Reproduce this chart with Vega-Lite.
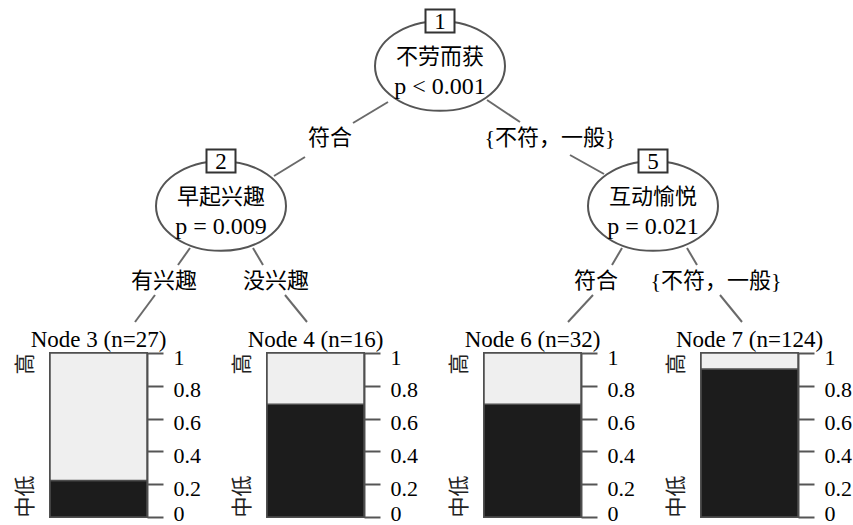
{
  "$schema": "https://vega.github.io/schema/vega-lite/v6.json",
  "background": "white",
  "padding": {"left": 13, "top": 0, "right": 0, "bottom": 0},
  "spacing": 23,
  "bounds": "flush",
  "config": {
    "view": {"stroke": "#555", "strokeWidth": 2},
    "font": "Liberation Serif"
  },
  "vconcat": [
    {
      "width": 803,
      "height": 330,
      "view": {"stroke": null},
      "layer": [
        {
          "data": {"values": [
            {"x1": 388, "y1": 102, "x2": 353, "y2": 123},
            {"x1": 305, "y1": 157, "x2": 274, "y2": 176},
            {"x1": 487, "y1": 100, "x2": 520, "y2": 122},
            {"x1": 570, "y1": 155, "x2": 604, "y2": 174},
            {"x1": 190, "y1": 248, "x2": 178, "y2": 265},
            {"x1": 155, "y1": 295, "x2": 135, "y2": 322},
            {"x1": 253, "y1": 248, "x2": 263, "y2": 265},
            {"x1": 285, "y1": 295, "x2": 307, "y2": 322},
            {"x1": 622, "y1": 248, "x2": 612, "y2": 265},
            {"x1": 593, "y1": 295, "x2": 568, "y2": 322},
            {"x1": 687, "y1": 248, "x2": 697, "y2": 265},
            {"x1": 720, "y1": 295, "x2": 742, "y2": 322}
          ]},
          "mark": {"type": "rule", "stroke": "#6a6a6a", "strokeWidth": 2},
          "encoding": {
            "x": {"field": "x1", "type": "quantitative", "scale": {"domain": [50, 853], "nice": false, "zero": false}, "axis": null},
            "y": {"field": "y1", "type": "quantitative", "scale": {"domain": [330, 0], "nice": false, "zero": false}, "axis": null},
            "x2": {"field": "x2"},
            "y2": {"field": "y2"}
          }
        },
        {
          "data": {"name": "nodes", "values": [
            {"id": "1", "x": 440, "y": 66, "var": "不劳而获", "p": "p < 0.001"},
            {"id": "2", "x": 221, "y": 206, "var": "早起兴趣", "p": "p = 0.009"},
            {"id": "5", "x": 653, "y": 206, "var": "互动愉悦", "p": "p = 0.021"}
          ]},
          "layer": [
            {
              "mark": {"type": "point", "shape": "M 1 0 C 1 0.381 0.552 0.69 0 0.69 C -0.552 0.69 -1 0.381 -1 0 C -1 -0.381 -0.552 -0.69 0 -0.69 C 0.552 -0.69 1 -0.381 1 0 Z", "size": 16900, "filled": true, "fill": "white", "stroke": "#555", "strokeWidth": 2, "opacity": 1},
              "encoding": {
                "x": {"field": "x", "type": "quantitative", "scale": {"domain": [50, 853], "nice": false, "zero": false}, "axis": null},
                "y": {"field": "y", "type": "quantitative", "scale": {"domain": [330, 0], "nice": false, "zero": false}, "axis": null}
              }
            },
            {
              "mark": {"type": "point", "shape": "M -1 -0.8 L 1 -0.8 L 1 0.8 L -1 0.8 Z", "size": 841, "filled": true, "fill": "white", "stroke": "#333", "strokeWidth": 2, "opacity": 1},
              "encoding": {
                "x": {"field": "x", "type": "quantitative", "scale": {"domain": [50, 853], "nice": false, "zero": false}, "axis": null},
                "y": {"field": "y", "type": "quantitative", "scale": {"domain": [330, 0], "nice": false, "zero": false}, "axis": null},
                "yOffset": {"value": -45}
              }
            },
            {
              "mark": {"type": "text", "font": "Liberation Serif", "fontSize": 23, "color": "black", "baseline": "middle", "dy": -44},
              "encoding": {
                "x": {"field": "x", "type": "quantitative", "scale": {"domain": [50, 853], "nice": false, "zero": false}, "axis": null},
                "y": {"field": "y", "type": "quantitative", "scale": {"domain": [330, 0], "nice": false, "zero": false}, "axis": null},
                "text": {"field": "id"}
              }
            },
            {
              "mark": {"type": "text", "font": "Noto Sans CJK SC", "fontSize": 22, "color": "black", "baseline": "middle", "dy": -9},
              "encoding": {
                "x": {"field": "x", "type": "quantitative", "scale": {"domain": [50, 853], "nice": false, "zero": false}, "axis": null},
                "y": {"field": "y", "type": "quantitative", "scale": {"domain": [330, 0], "nice": false, "zero": false}, "axis": null},
                "text": {"field": "var"}
              }
            },
            {
              "mark": {"type": "text", "font": "Liberation Serif", "fontSize": 24, "color": "black", "baseline": "middle", "dy": 21},
              "encoding": {
                "x": {"field": "x", "type": "quantitative", "scale": {"domain": [50, 853], "nice": false, "zero": false}, "axis": null},
                "y": {"field": "y", "type": "quantitative", "scale": {"domain": [330, 0], "nice": false, "zero": false}, "axis": null},
                "text": {"field": "p"}
              }
            }
          ]
        },
        {
          "data": {"values": [
            {"x": 330, "y": 138, "t": "符合"},
            {"x": 550, "y": 138, "t": "{不符，一般}"},
            {"x": 164, "y": 281, "t": "有兴趣"},
            {"x": 276, "y": 281, "t": "没兴趣"},
            {"x": 596, "y": 281, "t": "符合"},
            {"x": 716, "y": 281, "t": "{不符，一般}"}
          ]},
          "mark": {"type": "text", "font": "Liberation Serif, Noto Sans CJK SC", "fontSize": 22, "color": "black", "baseline": "middle"},
          "encoding": {
            "x": {"field": "x", "type": "quantitative", "scale": {"domain": [50, 853], "nice": false, "zero": false}, "axis": null},
            "y": {"field": "y", "type": "quantitative", "scale": {"domain": [330, 0], "nice": false, "zero": false}, "axis": null},
            "text": {"field": "t"}
          }
        }
      ]
    },
    {
      "hconcat": [
        {
          "width": 97, "height": 164,
          "title": {"text": "Node 3 (n=27)", "font": "Liberation Serif", "fontSize": 23, "fontWeight": "normal", "color": "black", "anchor": "middle", "frame": "group", "offset": -24, "baseline": "alphabetic"},
          "data": {"values": [{"node": "Node 3", "level": "中低", "p": 0.222}, {"node": "Node 3", "level": "高", "p": 0.778}]},
          "layer": [
            {
              "mark": {"type": "bar", "stroke": "#4d4d4d", "strokeWidth": 1.5},
              "encoding": {
                "x": {"field": "node", "type": "nominal", "axis": null, "scale": {"paddingInner": 0, "paddingOuter": 0}},
                "y": {"field": "p", "type": "quantitative", "stack": "zero", "scale": {"domain": [0, 1], "nice": false},
                  "axis": {"orient": "right", "values": [0, 0.2, 0.4, 0.6, 0.8, 1], "format": "~g", "grid": false, "title": null, "domainColor": "#555", "domainWidth": 2, "tickColor": "#555", "tickWidth": 2, "tickSize": 16, "labelPadding": 10, "labelFont": "Liberation Serif", "labelFontSize": 22, "labelColor": "black", "labelBaseline": "middle", "labelOffset": {"condition": {"test": "datum.value == 0", "value": -4}, "value": 4}}},
                "color": {"field": "level", "type": "nominal", "scale": {"domain": ["中低", "高"], "range": ["#1c1c1c", "#efefef"]}, "legend": null},
                "order": {"field": "level", "type": "ordinal", "sort": "ascending"}
              }
            },
            {
              "mark": {"type": "bar", "opacity": 0},
              "encoding": {
                "x": {"field": "node", "type": "nominal", "axis": null, "scale": {"paddingInner": 0, "paddingOuter": 0}},
                "y": {"field": "p", "type": "quantitative", "stack": "zero", "scale": {"domain": [0, 1], "nice": false},
                  "axis": {"orient": "left", "values": [0, 1], "labelExpr": "datum.value == 0 ? '中低' : '高'", "domain": false, "ticks": false, "grid": false, "title": null, "labelAngle": 270, "labelAlign": {"condition": {"test": "datum.value == 0", "value": "left"}, "value": "right"}, "labelBaseline": "bottom", "labelPadding": 15, "labelFont": "Noto Sans CJK SC", "labelFontSize": 21, "labelColor": "#222"}},
                "order": {"field": "level", "type": "ordinal", "sort": "ascending"}
              }
            }
          ],
          "resolve": {"axis": {"y": "independent"}}
        },
        {
          "width": 97, "height": 164,
          "title": {"text": "Node 4 (n=16)", "font": "Liberation Serif", "fontSize": 23, "fontWeight": "normal", "color": "black", "anchor": "middle", "frame": "group", "offset": -24, "baseline": "alphabetic"},
          "data": {"values": [{"node": "Node 4", "level": "中低", "p": 0.6875}, {"node": "Node 4", "level": "高", "p": 0.3125}]},
          "layer": [
            {
              "mark": {"type": "bar", "stroke": "#4d4d4d", "strokeWidth": 1.5},
              "encoding": {
                "x": {"field": "node", "type": "nominal", "axis": null, "scale": {"paddingInner": 0, "paddingOuter": 0}},
                "y": {"field": "p", "type": "quantitative", "stack": "zero", "scale": {"domain": [0, 1], "nice": false},
                  "axis": {"orient": "right", "values": [0, 0.2, 0.4, 0.6, 0.8, 1], "format": "~g", "grid": false, "title": null, "domainColor": "#555", "domainWidth": 2, "tickColor": "#555", "tickWidth": 2, "tickSize": 16, "labelPadding": 10, "labelFont": "Liberation Serif", "labelFontSize": 22, "labelColor": "black", "labelBaseline": "middle", "labelOffset": {"condition": {"test": "datum.value == 0", "value": -4}, "value": 4}}},
                "color": {"field": "level", "type": "nominal", "scale": {"domain": ["中低", "高"], "range": ["#1c1c1c", "#efefef"]}, "legend": null},
                "order": {"field": "level", "type": "ordinal", "sort": "ascending"}
              }
            },
            {
              "mark": {"type": "bar", "opacity": 0},
              "encoding": {
                "x": {"field": "node", "type": "nominal", "axis": null, "scale": {"paddingInner": 0, "paddingOuter": 0}},
                "y": {"field": "p", "type": "quantitative", "stack": "zero", "scale": {"domain": [0, 1], "nice": false},
                  "axis": {"orient": "left", "values": [0, 1], "labelExpr": "datum.value == 0 ? '中低' : '高'", "domain": false, "ticks": false, "grid": false, "title": null, "labelAngle": 270, "labelAlign": {"condition": {"test": "datum.value == 0", "value": "left"}, "value": "right"}, "labelBaseline": "bottom", "labelPadding": 15, "labelFont": "Noto Sans CJK SC", "labelFontSize": 21, "labelColor": "#222"}},
                "order": {"field": "level", "type": "ordinal", "sort": "ascending"}
              }
            }
          ],
          "resolve": {"axis": {"y": "independent"}}
        },
        {
          "width": 97, "height": 164,
          "title": {"text": "Node 6 (n=32)", "font": "Liberation Serif", "fontSize": 23, "fontWeight": "normal", "color": "black", "anchor": "middle", "frame": "group", "offset": -24, "baseline": "alphabetic"},
          "data": {"values": [{"node": "Node 6", "level": "中低", "p": 0.6875}, {"node": "Node 6", "level": "高", "p": 0.3125}]},
          "layer": [
            {
              "mark": {"type": "bar", "stroke": "#4d4d4d", "strokeWidth": 1.5},
              "encoding": {
                "x": {"field": "node", "type": "nominal", "axis": null, "scale": {"paddingInner": 0, "paddingOuter": 0}},
                "y": {"field": "p", "type": "quantitative", "stack": "zero", "scale": {"domain": [0, 1], "nice": false},
                  "axis": {"orient": "right", "values": [0, 0.2, 0.4, 0.6, 0.8, 1], "format": "~g", "grid": false, "title": null, "domainColor": "#555", "domainWidth": 2, "tickColor": "#555", "tickWidth": 2, "tickSize": 16, "labelPadding": 10, "labelFont": "Liberation Serif", "labelFontSize": 22, "labelColor": "black", "labelBaseline": "middle", "labelOffset": {"condition": {"test": "datum.value == 0", "value": -4}, "value": 4}}},
                "color": {"field": "level", "type": "nominal", "scale": {"domain": ["中低", "高"], "range": ["#1c1c1c", "#efefef"]}, "legend": null},
                "order": {"field": "level", "type": "ordinal", "sort": "ascending"}
              }
            },
            {
              "mark": {"type": "bar", "opacity": 0},
              "encoding": {
                "x": {"field": "node", "type": "nominal", "axis": null, "scale": {"paddingInner": 0, "paddingOuter": 0}},
                "y": {"field": "p", "type": "quantitative", "stack": "zero", "scale": {"domain": [0, 1], "nice": false},
                  "axis": {"orient": "left", "values": [0, 1], "labelExpr": "datum.value == 0 ? '中低' : '高'", "domain": false, "ticks": false, "grid": false, "title": null, "labelAngle": 270, "labelAlign": {"condition": {"test": "datum.value == 0", "value": "left"}, "value": "right"}, "labelBaseline": "bottom", "labelPadding": 15, "labelFont": "Noto Sans CJK SC", "labelFontSize": 21, "labelColor": "#222"}},
                "order": {"field": "level", "type": "ordinal", "sort": "ascending"}
              }
            }
          ],
          "resolve": {"axis": {"y": "independent"}}
        },
        {
          "width": 97, "height": 164,
          "title": {"text": "Node 7 (n=124)", "font": "Liberation Serif", "fontSize": 23, "fontWeight": "normal", "color": "black", "anchor": "middle", "frame": "group", "offset": -24, "baseline": "alphabetic"},
          "data": {"values": [{"node": "Node 7", "level": "中低", "p": 0.903}, {"node": "Node 7", "level": "高", "p": 0.097}]},
          "layer": [
            {
              "mark": {"type": "bar", "stroke": "#4d4d4d", "strokeWidth": 1.5},
              "encoding": {
                "x": {"field": "node", "type": "nominal", "axis": null, "scale": {"paddingInner": 0, "paddingOuter": 0}},
                "y": {"field": "p", "type": "quantitative", "stack": "zero", "scale": {"domain": [0, 1], "nice": false},
                  "axis": {"orient": "right", "values": [0, 0.2, 0.4, 0.6, 0.8, 1], "format": "~g", "grid": false, "title": null, "domainColor": "#555", "domainWidth": 2, "tickColor": "#555", "tickWidth": 2, "tickSize": 16, "labelPadding": 10, "labelFont": "Liberation Serif", "labelFontSize": 22, "labelColor": "black", "labelBaseline": "middle", "labelOffset": {"condition": {"test": "datum.value == 0", "value": -4}, "value": 4}}},
                "color": {"field": "level", "type": "nominal", "scale": {"domain": ["中低", "高"], "range": ["#1c1c1c", "#efefef"]}, "legend": null},
                "order": {"field": "level", "type": "ordinal", "sort": "ascending"}
              }
            },
            {
              "mark": {"type": "bar", "opacity": 0},
              "encoding": {
                "x": {"field": "node", "type": "nominal", "axis": null, "scale": {"paddingInner": 0, "paddingOuter": 0}},
                "y": {"field": "p", "type": "quantitative", "stack": "zero", "scale": {"domain": [0, 1], "nice": false},
                  "axis": {"orient": "left", "values": [0, 1], "labelExpr": "datum.value == 0 ? '中低' : '高'", "domain": false, "ticks": false, "grid": false, "title": null, "labelAngle": 270, "labelAlign": {"condition": {"test": "datum.value == 0", "value": "left"}, "value": "right"}, "labelBaseline": "bottom", "labelPadding": 15, "labelFont": "Noto Sans CJK SC", "labelFontSize": 21, "labelColor": "#222"}},
                "order": {"field": "level", "type": "ordinal", "sort": "ascending"}
              }
            }
          ],
          "resolve": {"axis": {"y": "independent"}}
        }
      ],
      "spacing": 120,
      "bounds": "flush"
    }
  ]
}
